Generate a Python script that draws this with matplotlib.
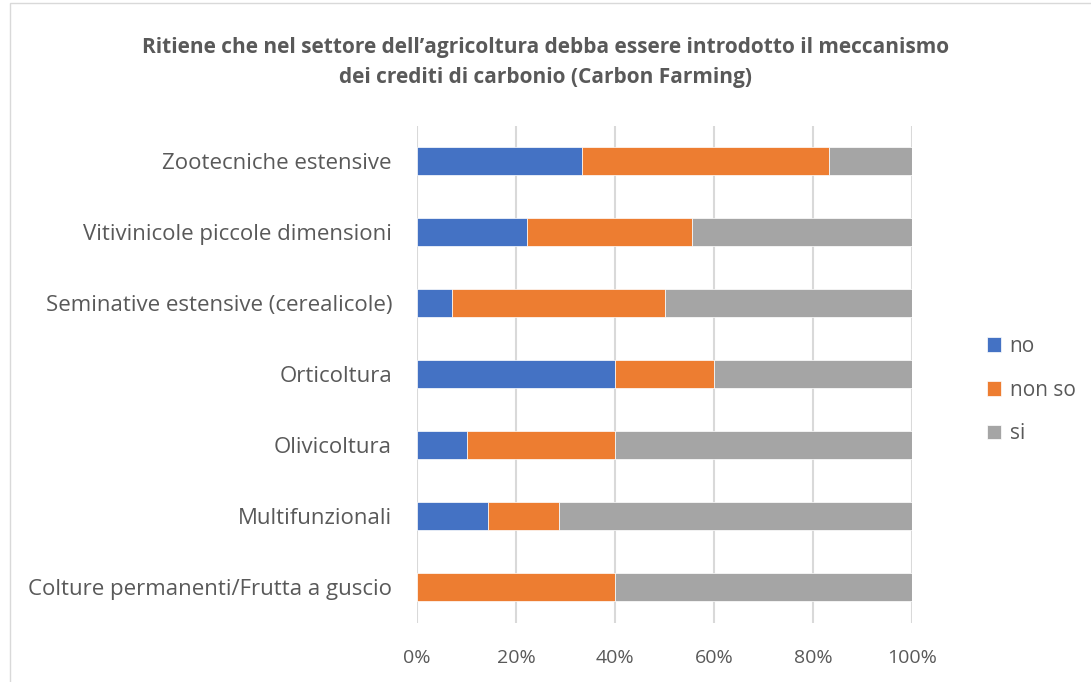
import matplotlib.pyplot as plt
from matplotlib.patches import Rectangle

categories = ["Zootecniche estensive", "Vitivinicole piccole dimensioni",
              "Seminative estensive (cerealicole)", "Orticoltura", "Olivicoltura",
              "Multifunzionali", "Colture permanenti/Frutta a guscio"]
no = [33.3, 22.2, 7.1, 40.0, 10.0, 14.3, 0.0]
non_so = [50.0, 33.4, 42.9, 20.0, 30.0, 14.3, 40.0]
si = [16.7, 44.4, 50.0, 40.0, 60.0, 71.4, 60.0]
series_names = ["no", "non so", "si"]
colors = ["#4472C4", "#ED7D31", "#A5A5A5"]
xticks = [0, 20, 40, 60, 80, 100]

plt.rcParams['font.family'] = ['Open Sans', 'DejaVu Sans']
text_col = "#595959"

fig = plt.figure(figsize=(10.91, 6.82), dpi=100)
fig.patches.append(Rectangle((10 / 1091, -0.01), 1.1, 1 - 3 / 682 + 0.01,
                             transform=fig.transFigure, fill=False,
                             edgecolor="#d9d9d9", linewidth=1))
ax = fig.add_axes([417 / 1091, 1 - 622.5 / 682, 495 / 1091, 497 / 682])

y = list(range(len(categories)))
left = [0] * len(categories)
for vals, name, c in zip([no, non_so, si], series_names, colors):
    ax.barh(y, vals, left=left, height=0.4, color=c, label=name,
            edgecolor="white", linewidth=0.5)
    left = [a + b for a, b in zip(left, vals)]

ax.set_ylim(len(categories) - 0.5, -0.5)
ax.set_xlim(0, 100)
ax.set_xticks(xticks)
ax.set_xticklabels([f"{t}%" for t in xticks])
ax.set_yticks(y)
ax.set_yticklabels(categories)
ax.tick_params(length=0, labelcolor=text_col)
ax.tick_params(axis='x', pad=19, labelsize=14)
ax.tick_params(axis='y', pad=18, labelsize=16)
ax.grid(axis='x', color="#d9d9d9", linewidth=1.5)
ax.set_axisbelow(True)
for s in ax.spines.values():
    s.set_visible(False)

fig.text(0.5, 1 - 47 / 682, "Ritiene che nel settore dell\u2019agricoltura debba essere introdotto il meccanismo",
         ha='center', va='center', fontsize=15, fontweight='bold', color=text_col)
fig.text(0.5, 1 - 78 / 682, "dei crediti di carbonio (Carbon Farming)",
         ha='center', va='center', fontsize=15, fontweight='bold', color=text_col)

leg = fig.legend(loc='center left', bbox_to_anchor=(968 / 1091, 1 - 390 / 682),
                 frameon=False, fontsize=15, labelspacing=1.1, handlelength=0.7,
                 handleheight=0.7, handletextpad=0.4)
for t in leg.get_texts():
    t.set_color(text_col)

fig.savefig("out.png", dpi=100)
